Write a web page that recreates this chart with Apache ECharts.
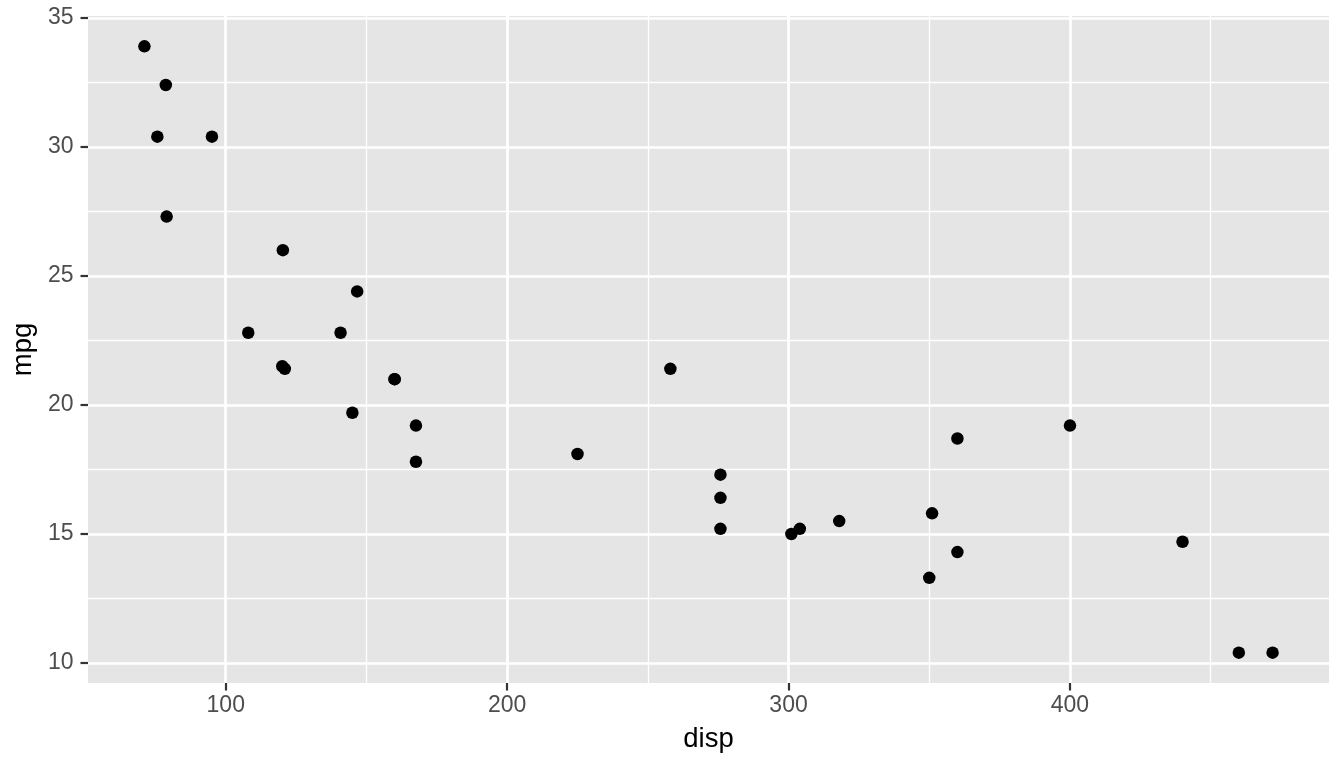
<!DOCTYPE html>
<html>
<head>
<meta charset="utf-8">
<script src="https://cdn.jsdelivr.net/npm/echarts@6/dist/echarts.min.js"></script>
<style>html,body{margin:0;padding:0;background:#fff}#c{width:1344px;height:768px}</style>
</head>
<body>
<div id="c"></div>
<script>
const disp = [160,160,108,258,360,225,360,146.7,140.8,167.6,167.6,275.8,275.8,275.8,472,460,440,78.7,75.7,71.1,120.1,318,304,350,400,79,120.3,95.1,351,145,301,121];
const mpg = [21.0,21.0,22.8,21.4,18.7,18.1,14.3,24.4,22.8,19.2,17.8,16.4,17.3,15.2,10.4,10.4,14.7,32.4,30.4,33.9,21.5,15.5,15.2,13.3,19.2,27.3,26.0,30.4,15.8,19.7,15.0,21.4];
const xTicks = [100,200,300,400];
const xMinor = [150,250,350,450];
const yTicks = [10,15,20,25,30,35];
const yMinor = [12.5,17.5,22.5,27.5,32.5];

const xMin = 51.055, xMax = 492.045;
const yMin = 9.225, yMax = 35.075;
const font = "'Liberation Sans', Arial, Helvetica, sans-serif";

const gridLines = [];
xMinor.forEach(v => gridLines.push({xAxis: v, lineStyle: {width: 1.35}}));
yMinor.forEach(v => gridLines.push({yAxis: v, lineStyle: {width: 1.35}}));
xTicks.forEach(v => gridLines.push({xAxis: v, lineStyle: {width: 2.7}}));
yTicks.forEach(v => gridLines.push({yAxis: v, lineStyle: {width: 2.7}}));

const chart = echarts.init(document.getElementById('c'), null, {renderer: 'canvas'});
chart.setOption({
  animation: false,
  backgroundColor: '#ffffff',
  grid: {left: 88, right: 15, top: 16, bottom: 85, show: true, backgroundColor: '#E5E5E5', borderWidth: 0},
  xAxis: {
    type: 'value', min: xMin, max: xMax,
    name: 'disp', nameLocation: 'middle', nameGap: 42,
    nameTextStyle: {fontFamily: font, fontSize: 27.5, color: '#000'},
    axisLine: {show: false},
    axisTick: {show: true, length: 7.5, customValues: xTicks, lineStyle: {color: '#333333', width: 2.2}},
    axisLabel: {customValues: xTicks, margin: 11, fontFamily: font, fontSize: 23, color: '#4D4D4D'},
    splitLine: {show: false}
  },
  yAxis: {
    type: 'value', min: yMin, max: yMax,
    name: 'mpg', nameLocation: 'middle', nameGap: 46, nameRotate: 90,
    nameTextStyle: {fontFamily: font, fontSize: 27.5, color: '#000'},
    axisLine: {show: false},
    axisTick: {show: true, length: 7.5, customValues: yTicks, lineStyle: {color: '#333333', width: 2.2}},
    axisLabel: {customValues: yTicks, margin: 14.5, fontFamily: font, fontSize: 23, color: '#4D4D4D'},
    splitLine: {show: false}
  },
  series: [
    {
      type: 'line', data: [], silent: true, z: 1,
      markLine: {
        silent: true, symbol: ['none','none'], animation: false,
        label: {show: false},
        lineStyle: {color: '#ffffff', type: 'solid'},
        emphasis: {disabled: true},
        data: gridLines
      }
    },
    {
      type: 'scatter', z: 5,
      symbol: 'circle', symbolSize: 12.5,
      itemStyle: {color: '#000000', opacity: 1},
      data: disp.map((d, i) => [d, mpg[i]])
    }
  ]
});
</script>
</body>
</html>
